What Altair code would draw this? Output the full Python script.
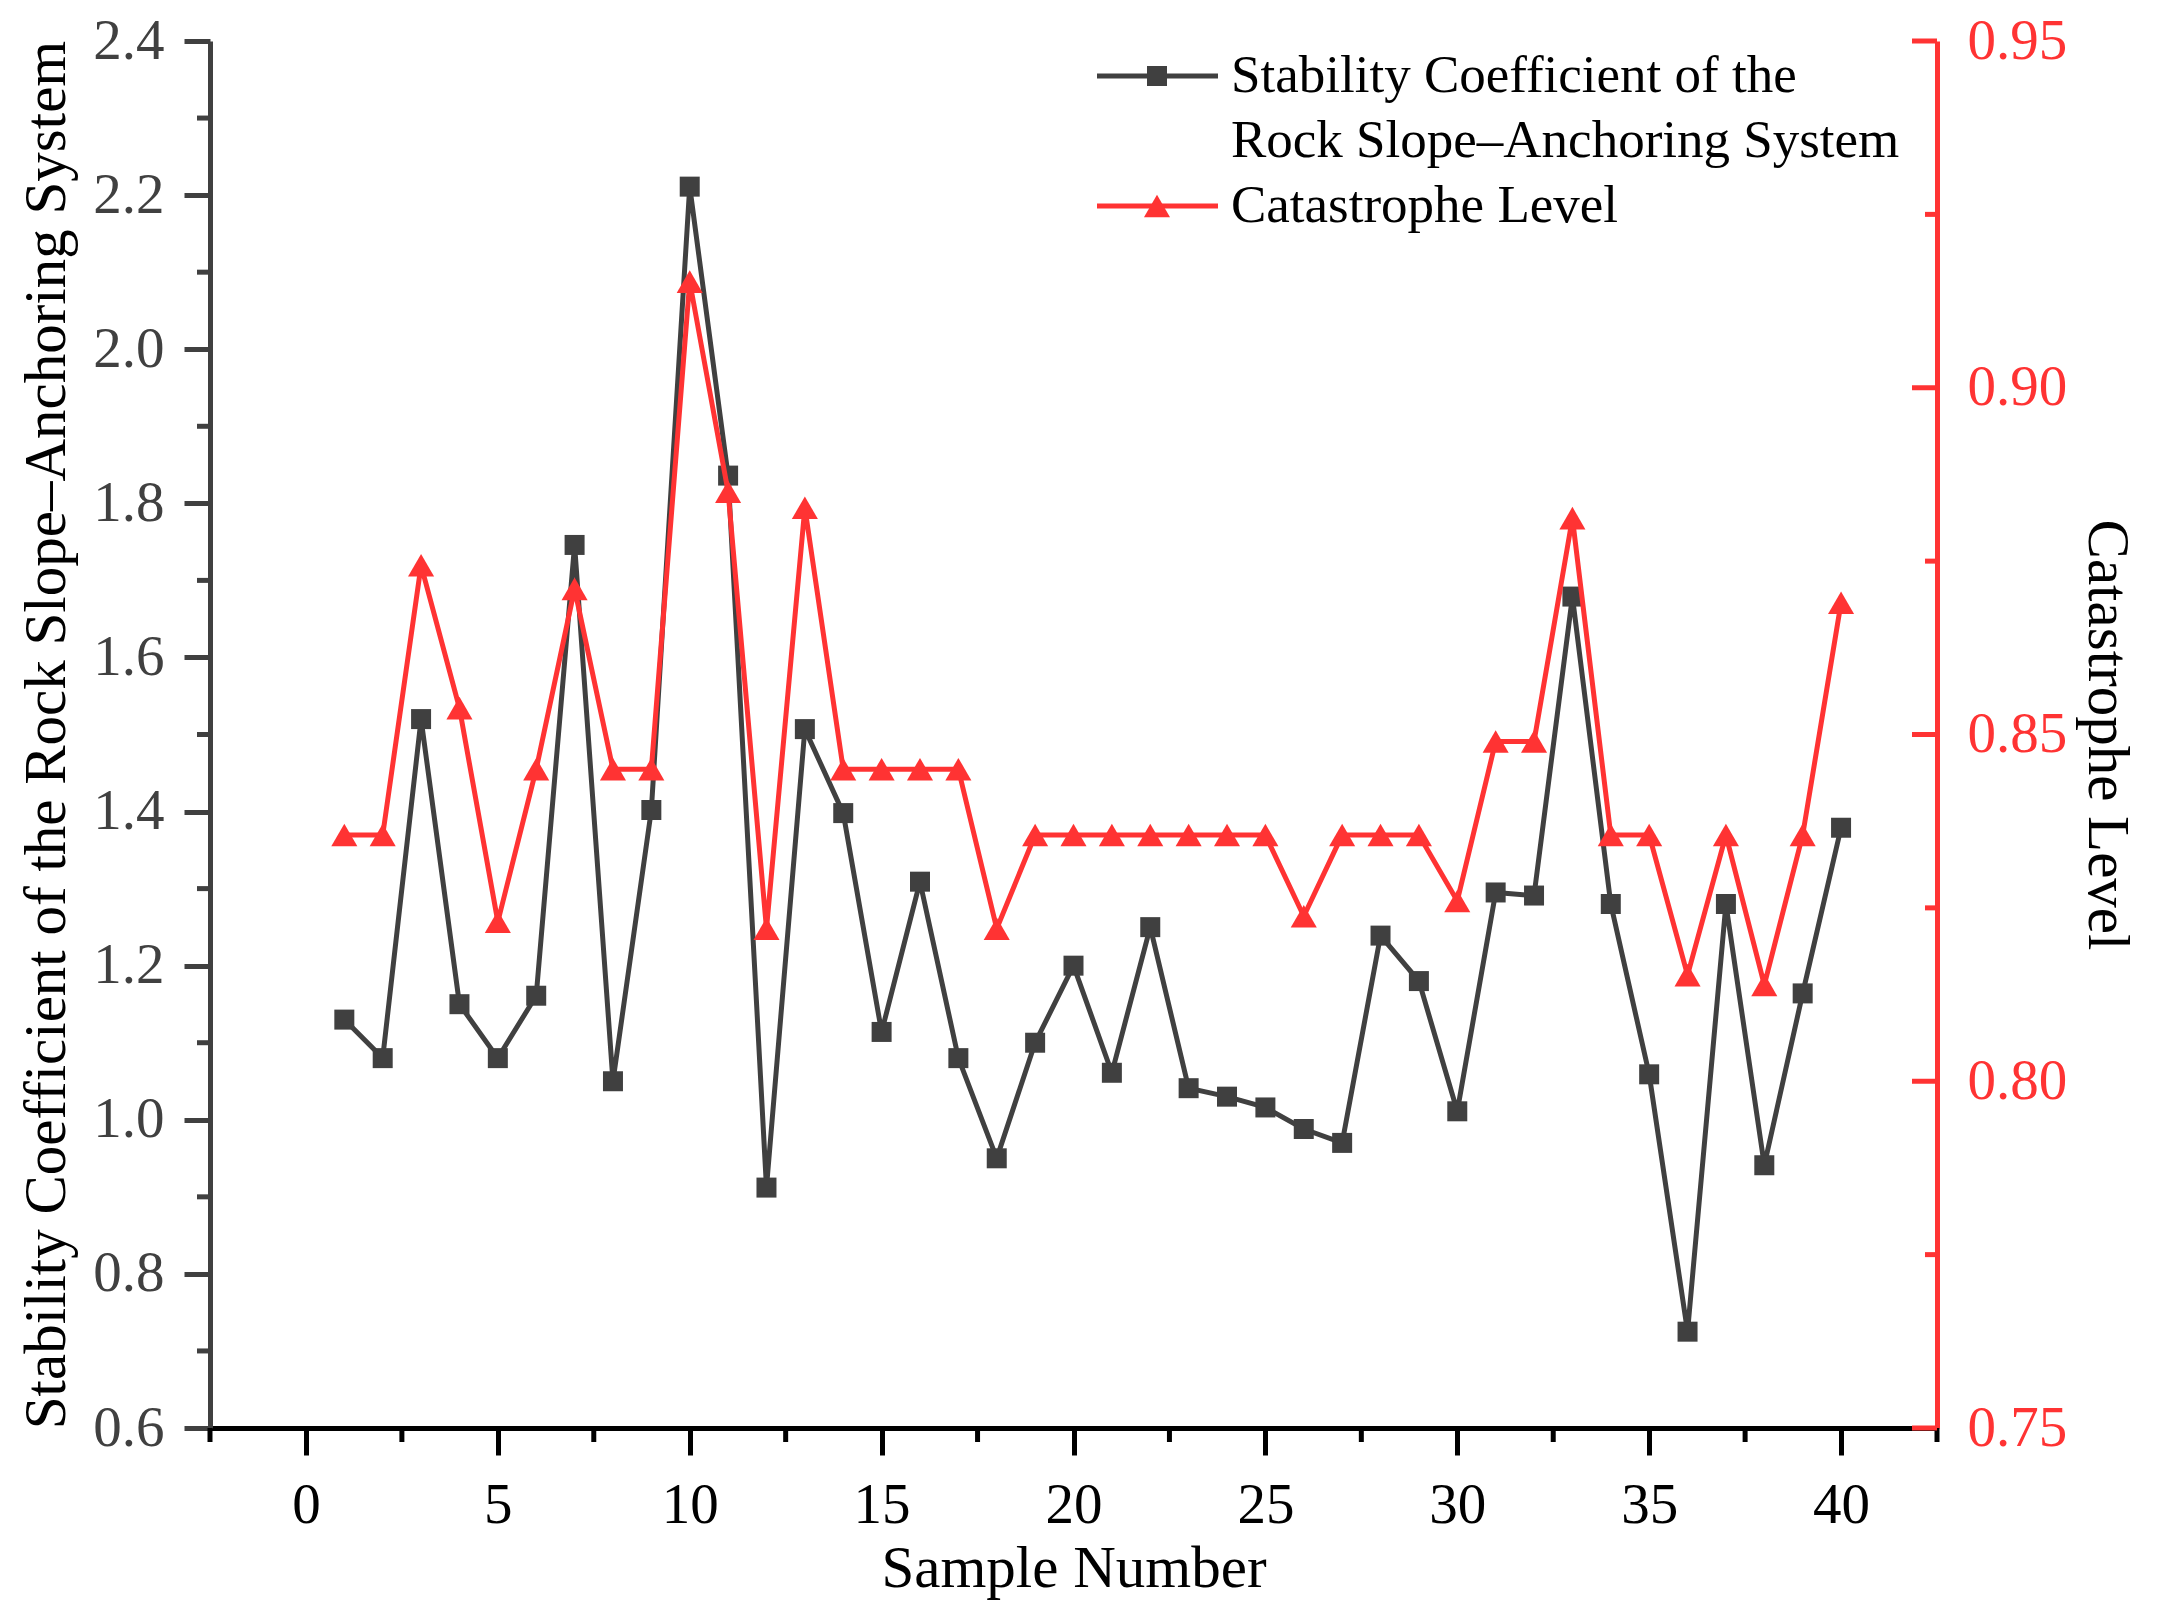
import altair as alt
import pandas as pd

samples = list(range(1, 41))
stability = [1.13, 1.08, 1.52, 1.15, 1.08, 1.161, 1.746, 1.05, 1.402, 2.211,
             1.836, 0.912, 1.507, 1.398, 1.114, 1.309, 1.08, 0.95, 1.10, 1.20,
             1.061, 1.25, 1.041, 1.03, 1.016, 0.988, 0.97, 1.239, 1.18, 1.011,
             1.295, 1.291, 1.679, 1.28, 1.059, 0.725, 1.28, 0.941, 1.164, 1.379]
catastrophe = [0.8355, 0.8355, 0.8744, 0.8538, 0.823, 0.845, 0.871, 0.845, 0.845, 0.9153,
               0.885, 0.822, 0.8827, 0.845, 0.845, 0.845, 0.845, 0.822, 0.8355, 0.8355,
               0.8355, 0.8355, 0.8355, 0.8355, 0.8355, 0.8238, 0.8355, 0.8355, 0.8355, 0.826,
               0.849, 0.849, 0.8812, 0.8355, 0.8355, 0.8153, 0.8355, 0.8139, 0.8355, 0.869]

x_major = [0, 5, 10, 15, 20, 25, 30, 35, 40]
x_minor = [-2.5, 2.5, 7.5, 12.5, 17.5, 22.5, 27.5, 32.5, 37.5, 42.5]
left_major = [0.6, 0.8, 1.0, 1.2, 1.4, 1.6, 1.8, 2.0, 2.2, 2.4]
left_minor = [0.7, 0.9, 1.1, 1.3, 1.5, 1.7, 1.9, 2.1, 2.3]
right_major = [0.75, 0.80, 0.85, 0.90, 0.95]
right_minor = [0.775, 0.825, 0.875, 0.925]

legend_labels = ["Stability Coefficient of the", "Rock Slope\u2013Anchoring System", "Catastrophe Level"]

GREY = "#404040"
RED = "#FF3333"
FONT = "Liberation Serif"
W, H = 1727, 1387
LW = 5

df = pd.DataFrame({"sample": samples, "stability": stability, "catastrophe": catastrophe})

xscale = alt.Scale(domain=[-2.5, 42.5], nice=False, zero=False)
lscale = alt.Scale(domain=[0.6, 2.4], nice=False, zero=False)
rscale = alt.Scale(domain=[0.75, 0.95], nice=False, zero=False)

xaxis = alt.Axis(values=x_major, title="Sample Number", grid=False, tickSize=27, tickWidth=5,
                 tickColor="black", domainColor="black", domainWidth=5, labelFont=FONT,
                 labelFontSize=57, labelColor="black", labelPadding=22, titleFont=FONT,
                 titleFontSize=59, titleFontWeight="normal", titleColor="black", titlePadding=6)
laxis = alt.Axis(values=left_major, format=".1f", orient="left", grid=False, tickSize=26,
                 tickWidth=5, tickColor=GREY, domainColor=GREY, domainWidth=5, labelFont=FONT,
                 labelFontSize=57, labelColor=GREY, labelPadding=20,
                 title="Stability Coefficient of the Rock Slope\u2013Anchoring System",
                 titleFont=FONT, titleFontSize=59, titleFontWeight="normal", titleColor="black",
                 titlePadding=16)
raxis = alt.Axis(values=right_major, format=".2f", orient="right", grid=False, ticks=False,
                 tickSize=0, domainColor=RED, domainWidth=5, labelFont=FONT, labelFontSize=57,
                 labelColor=RED, labelPadding=30, title="Catastrophe Level", titleFont=FONT,
                 titleFontSize=59, titleFontWeight="normal", titleColor="black", titlePadding=10)

black_line = alt.Chart(df).mark_line(
    color=GREY, strokeWidth=LW,
    point=alt.OverlayMarkDef(shape="square", size=400, filled=True, color=GREY, opacity=1)
).encode(
    x=alt.X("sample:Q", scale=xscale, axis=xaxis),
    y=alt.Y("stability:Q", scale=lscale, axis=laxis),
)

lminor = alt.Chart(pd.DataFrame({"stability": left_minor})).mark_rule(
    color=GREY, strokeWidth=5
).encode(
    y=alt.Y("stability:Q", scale=lscale, axis=laxis),
    x=alt.value(-13), x2=alt.value(0),
)

xminor = alt.Chart(pd.DataFrame({"sample": x_minor})).mark_rule(
    color="black", strokeWidth=5
).encode(
    x=alt.X("sample:Q", scale=xscale, axis=xaxis),
    y=alt.value(H), y2=alt.value(H + 14),
)

# legend
leg1 = alt.Chart(pd.DataFrame({"a": [0]})).mark_rule(color=GREY, strokeWidth=LW).encode(
    x=alt.value(887), x2=alt.value(1008), y=alt.value(35))
leg1p = alt.Chart(pd.DataFrame({"a": [0]})).mark_point(
    shape="square", size=400, filled=True, color=GREY, opacity=1).encode(
    x=alt.value(947), y=alt.value(35))
leg2 = alt.Chart(pd.DataFrame({"a": [0]})).mark_rule(color=RED, strokeWidth=LW).encode(
    x=alt.value(887), x2=alt.value(1008), y=alt.value(165))
leg2p = alt.Chart(pd.DataFrame({"a": [0]})).mark_point(
    shape="triangle-up", size=680, filled=True, color=RED, opacity=1).encode(
    x=alt.value(947), y=alt.value(165))
legt1 = alt.Chart(pd.DataFrame({"t": [legend_labels[0]]})).mark_text(
    font=FONT, fontSize=53, align="left", baseline="middle", color="black").encode(
    x=alt.value(1021), y=alt.value(35), text="t:N")
legt2 = alt.Chart(pd.DataFrame({"t": [legend_labels[1]]})).mark_text(
    font=FONT, fontSize=53, align="left", baseline="middle", color="black").encode(
    x=alt.value(1021), y=alt.value(100), text="t:N")
legt3 = alt.Chart(pd.DataFrame({"t": [legend_labels[2]]})).mark_text(
    font=FONT, fontSize=53, align="left", baseline="middle", color="black").encode(
    x=alt.value(1021), y=alt.value(165), text="t:N")

left_group = alt.layer(black_line, lminor, xminor, leg1, leg1p, leg2, leg2p, legt1, legt2, legt3)

red_line = alt.Chart(df).mark_line(
    color=RED, strokeWidth=LW,
    point=alt.OverlayMarkDef(shape="triangle-up", size=680, filled=True, color=RED, opacity=1)
).encode(
    x=alt.X("sample:Q", scale=xscale, axis=xaxis),
    y=alt.Y("catastrophe:Q", scale=rscale, axis=raxis),
)

rmajor = alt.Chart(pd.DataFrame({"catastrophe": right_major})).mark_rule(
    color=RED, strokeWidth=5).encode(
    y=alt.Y("catastrophe:Q", scale=rscale, axis=raxis),
    x=alt.value(W - 25), x2=alt.value(W))
rminor = alt.Chart(pd.DataFrame({"catastrophe": right_minor})).mark_rule(
    color=RED, strokeWidth=5).encode(
    y=alt.Y("catastrophe:Q", scale=rscale, axis=raxis),
    x=alt.value(W - 12), x2=alt.value(W))

right_group = alt.layer(red_line, rmajor, rminor)

chart = alt.layer(left_group, right_group).resolve_scale(y="independent").properties(
    width=W, height=H,
    autosize=alt.AutoSizeParams(type="none"),
    padding={"left": 202, "top": 33, "right": 212, "bottom": 178},
    background="white",
).configure_view(stroke="transparent")

chart.save("out.html", embed_options={"renderer": "svg", "actions": False})
